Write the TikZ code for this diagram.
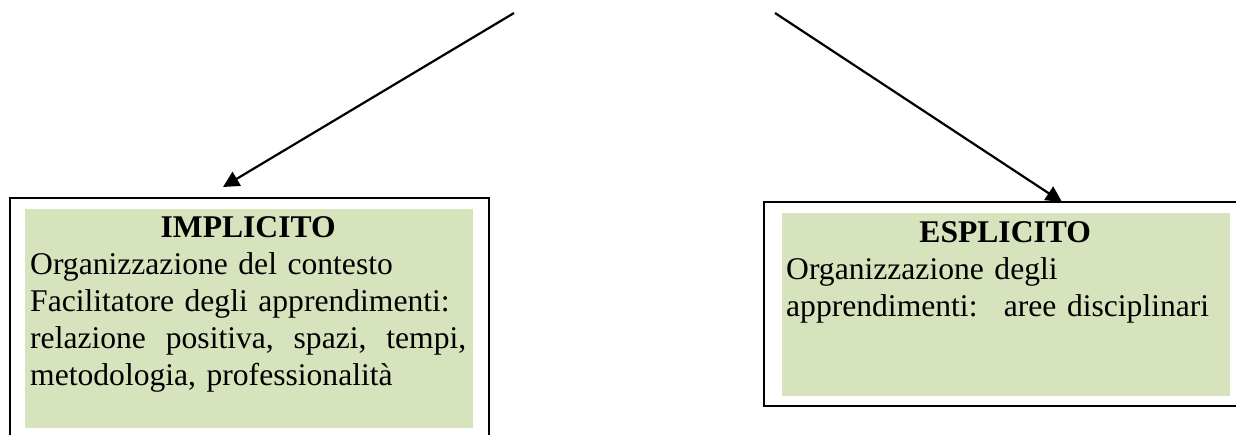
\documentclass[tikz,border=0pt]{standalone}
\usepackage{fontspec}
\setmainfont{Liberation Serif}
\usetikzlibrary{arrows.meta}
\definecolor{boxgreen}{HTML}{D6E3BC}
\tikzset{
  greenbox/.style={fill=boxgreen, draw=none, inner sep=0pt, anchor=north west},
  frame/.style={draw=black, line width=1.8pt},
  txt/.style={inner sep=0pt, anchor=north west, text width=438pt, align=left,
              font=\fontsize{31.6pt}{37pt}\selectfont},
  conn/.style={draw=black, line width=2.2pt, -{Triangle[length=16pt,width=16pt]}}
}
\begin{document}
\begin{tikzpicture}[x=1pt,y=-1pt]
\useasboundingbox (0,0) rectangle (1236,434);
% frames
\draw[frame] (10,440) -- (10,198) -- (489,198) -- (489,440);
\draw[frame] (1240,202) -- (764,202) -- (764,406) -- (1240,406);
% green boxes
\node[greenbox, minimum width=448pt, minimum height=219pt] (gl) at (25,209) {};
\node[greenbox, minimum width=448pt, minimum height=183pt] (gr) at (782,213) {};
% texts
\node[txt] (tl) at (30,216.5) {\hyphenpenalty=10000
\leavevmode\hbox to 436pt{\hfill\bfseries IMPLICITO\hfill}\\
Organizzazione del contesto\\
Facilitatore degli apprendimenti:\\
\leavevmode\hbox to 436pt{relazione\hfill positiva,\hfill spazi,\hfill tempi,}\\
metodologia, professionalità};
\node[txt] (tr) at (786,221.5) {\hyphenpenalty=10000
\leavevmode\hbox to 438pt{\hfill\bfseries ESPLICITO\hfill}\\
Organizzazione degli\\
apprendimenti:~ aree disciplinari};
% connectors
\coordinate (sl) at (514,13);
\coordinate (el) at (223,187);
\coordinate (sr) at (775,13);
\coordinate (er) at (1062,202);
\draw[conn] (sl) -- (el);
\draw[conn] (sr) -- (er);
\end{tikzpicture}
\end{document}
